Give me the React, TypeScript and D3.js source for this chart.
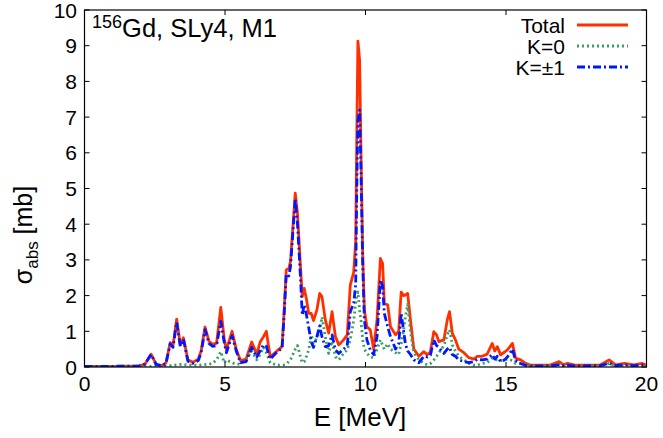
import React from "react";
import * as d3 from "d3";

const energy = [0.0, 1.05, 1.95, 2.15, 2.37, 2.55, 2.75, 2.9, 3.05, 3.15, 3.28, 3.41, 3.52, 3.68, 3.85, 4.05, 4.15, 4.29, 4.43, 4.55, 4.7, 4.85, 4.97, 5.05, 5.25, 5.4, 5.55, 5.75, 5.95, 6.13, 6.25, 6.37, 6.47, 6.61, 6.85, 7.03, 7.1, 7.18, 7.27, 7.33, 7.5, 7.58, 7.68, 7.75, 7.82, 7.9, 7.98, 8.07, 8.15, 8.27, 8.37, 8.45, 8.57, 8.69, 8.81, 8.93, 9.05, 9.22, 9.35, 9.46, 9.58, 9.65, 9.69, 9.73, 9.79, 9.84, 9.9, 9.96, 10.05, 10.17, 10.29, 10.41, 10.53, 10.61, 10.67, 10.79, 10.89, 11.07, 11.18, 11.27, 11.35, 11.42, 11.5, 11.6, 11.72, 11.9, 12.08, 12.2, 12.31, 12.43, 12.53, 12.61, 12.79, 12.91, 12.99, 13.09, 13.2, 13.32, 13.5, 13.68, 13.86, 13.98, 14.15, 14.33, 14.51, 14.6, 14.69, 14.81, 14.95, 15.05, 15.23, 15.34, 15.52, 15.7, 15.88, 16.55, 16.89, 17.05, 17.19, 17.45, 18.35, 18.67, 18.9, 19.21, 19.55, 19.85, 20.0];

const total = [0.02, 0.02, 0.03, 0.08, 0.36, 0.08, 0.04, 0.12, 0.68, 0.6, 1.34, 0.62, 0.82, 0.2, 0.13, 0.22, 0.45, 1.12, 0.72, 0.64, 0.66, 1.67, 0.8, 0.48, 1.0, 0.5, 0.18, 0.22, 0.7, 0.36, 0.7, 0.85, 1.0, 0.28, 0.45, 0.57, 1.5, 2.72, 2.76, 2.95, 4.87, 4.3, 2.9, 1.97, 2.2, 1.9, 1.5, 1.5, 1.3, 1.6, 2.06, 1.97, 1.32, 0.95, 1.55, 0.85, 0.62, 0.76, 0.9, 2.3, 2.65, 3.5, 6.5, 9.13, 8.6, 6.0, 3.2, 1.6, 1.13, 1.04, 0.5, 1.32, 3.04, 2.9, 1.78, 1.74, 1.13, 0.9, 1.0, 2.1, 2.0, 2.02, 2.06, 1.32, 0.5, 0.3, 0.43, 0.34, 0.43, 0.99, 0.9, 0.71, 0.76, 1.32, 1.55, 0.94, 0.76, 0.5, 0.4, 0.26, 0.22, 0.3, 0.3, 0.36, 0.66, 0.45, 0.57, 0.34, 0.42, 0.48, 0.66, 0.25, 0.2, 0.1, 0.05, 0.05, 0.15, 0.06, 0.1, 0.05, 0.06, 0.2, 0.06, 0.1, 0.06, 0.1, 0.05];

const kZero = [0.01, 0.01, 0.01, 0.01, 0.02, 0.02, 0.02, 0.03, 0.04, 0.05, 0.06, 0.07, 0.07, 0.06, 0.05, 0.05, 0.06, 0.07, 0.08, 0.1, 0.2, 0.43, 0.12, 0.2, 0.12, 0.08, 0.08, 0.2, 0.45, 0.2, 0.35, 0.55, 0.4, 0.12, 0.05, 0.05, 0.06, 0.08, 0.15, 0.2, 0.5, 0.6, 0.3, 0.12, 0.15, 0.3, 0.48, 0.9, 0.67, 0.8, 1.0, 1.4, 0.85, 0.38, 0.72, 0.29, 0.2, 0.38, 0.48, 0.76, 1.3, 1.8, 2.0, 2.1, 1.6, 1.3, 0.76, 0.5, 0.38, 0.29, 0.25, 0.5, 0.76, 0.6, 0.5, 0.65, 0.5, 0.4, 0.35, 0.65, 1.0, 1.4, 1.75, 1.0, 0.4, 0.2, 0.1, 0.06, 0.1, 0.2, 0.3, 0.4, 0.6, 0.9, 1.04, 0.62, 0.45, 0.3, 0.2, 0.1, 0.05, 0.05, 0.1, 0.12, 0.25, 0.22, 0.2, 0.18, 0.2, 0.22, 0.18, 0.1, 0.1, 0.05, 0.02, 0.02, 0.08, 0.02, 0.05, 0.02, 0.02, 0.1, 0.02, 0.04, 0.02, 0.04, 0.02];

const kOne = [0.02, 0.02, 0.03, 0.08, 0.35, 0.07, 0.03, 0.1, 0.65, 0.55, 1.25, 0.58, 0.78, 0.16, 0.1, 0.18, 0.4, 1.05, 0.66, 0.58, 0.6, 1.28, 0.7, 0.4, 0.88, 0.45, 0.12, 0.15, 0.55, 0.28, 0.45, 0.62, 0.58, 0.22, 0.42, 0.52, 1.4, 2.6, 2.55, 2.8, 4.72, 4.0, 2.6, 1.45, 1.75, 1.45, 1.1, 0.7, 0.55, 0.85, 1.15, 0.85, 0.57, 0.6, 0.9, 0.48, 0.38, 0.5, 0.6, 1.55, 1.8, 2.3, 5.0, 6.9, 7.2, 5.5, 2.9, 1.32, 0.76, 0.48, 0.35, 0.85, 2.44, 2.25, 1.5, 1.13, 0.85, 0.5, 0.65, 1.5, 1.05, 0.65, 0.45, 0.35, 0.2, 0.12, 0.3, 0.28, 0.33, 0.76, 0.6, 0.55, 0.38, 0.5, 0.55, 0.35, 0.3, 0.2, 0.15, 0.12, 0.15, 0.22, 0.2, 0.22, 0.35, 0.22, 0.3, 0.15, 0.2, 0.28, 0.5, 0.18, 0.1, 0.04, 0.03, 0.03, 0.06, 0.04, 0.05, 0.03, 0.04, 0.1, 0.04, 0.06, 0.04, 0.06, 0.03];

const xTicks = [0, 5, 10, 15, 20];
const yTicks = [0, 1, 2, 3, 4, 5, 6, 7, 8, 9, 10];

const W = 663, H = 438;
const L = 84.5, R = 646.5, T = 10, B = 367;
const FONT = "'Liberation Sans', Arial, Helvetica, sans-serif";

export default function App() {
  const x = d3.scaleLinear().domain([0, 20]).range([L, R]);
  const y = d3.scaleLinear().domain([0, 10]).range([B, T]);
  const mk = (vals: number[]) =>
    d3.line<number>().x((_, i) => x(energy[i])).y((v) => y(v))(vals) || "";

  const legend = [
    { label: "Total", color: "#ff3000", dash: "none", yy: 25 },
    { label: "K=0", color: "#3a9e62", dash: "2,3", yy: 46 },
    { label: "K=±1", color: "#0018ff", dash: "8,3,2,3", yy: 67 },
  ];

  return (
    <svg width={W} height={H} style={{ position: "absolute", left: 0, top: 0 }} fontFamily={FONT}>
      <rect width={W} height={H} fill="#fff" />
      <defs>
        <clipPath id="clip">
          <rect x={L} y={T} width={R - L} height={B - T} />
        </clipPath>
      </defs>
      <g clipPath="url(#clip)" fill="none" strokeLinejoin="round">
        <path d={mk(total)} stroke="#ff3000" strokeWidth={2.8} />
        <path d={mk(kZero)} stroke="#3a9e62" strokeWidth={2.8} strokeDasharray="2,3" />
        <path d={mk(kOne)} stroke="#0018ff" strokeWidth={2.8} strokeDasharray="8,3,2,3" />
      </g>
      <rect x={L} y={T} width={R - L} height={B - T} fill="none" stroke="#000" strokeWidth={1.2} />
      {xTicks.map((t) => (
        <g key={"x" + t}>
          <line x1={x(t)} x2={x(t)} y1={B} y2={B - 5} stroke="#000" />
          <line x1={x(t)} x2={x(t)} y1={T} y2={T + 5} stroke="#000" />
          <text x={x(t)} y={391} textAnchor="middle" fontSize={21}>{t}</text>
        </g>
      ))}
      {yTicks.map((t) => (
        <g key={"y" + t}>
          <line x1={L} x2={L + 5} y1={y(t)} y2={y(t)} stroke="#000" />
          <line x1={R} x2={R - 5} y1={y(t)} y2={y(t)} stroke="#000" />
          <text x={77} y={y(t) + 7.5} textAnchor="end" fontSize={21}>{t}</text>
        </g>
      ))}
      <text x={360} y={426} textAnchor="middle" fontSize={26}>E [MeV]</text>
      <text transform={`translate(32, 235) rotate(-90)`} textAnchor="middle" fontSize={25}>
        σ<tspan fontSize={17} dy={6}>abs</tspan><tspan dy={-6}> [mb]</tspan>
      </text>
      <text x={92} y={37} fontSize={25.5}>
        <tspan fontSize={18} dy={-9}>156</tspan><tspan dy={9}>Gd, SLy4, M1</tspan>
      </text>
      {legend.map((l) => (
        <g key={l.label}>
          <text x={565} y={l.yy + 7.5} textAnchor="end" fontSize={21}>{l.label}</text>
          <line x1={577} x2={628} y1={l.yy} y2={l.yy} stroke={l.color} strokeWidth={2.8} strokeDasharray={l.dash} />
        </g>
      ))}
    </svg>
  );
}
